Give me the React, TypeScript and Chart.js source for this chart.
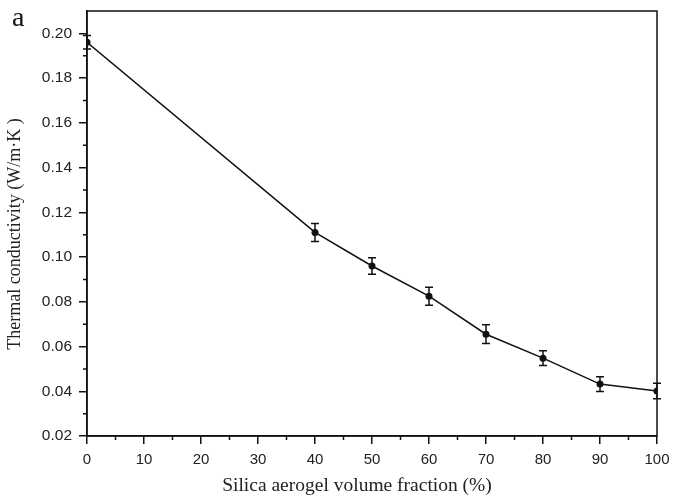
import React, { useEffect, useRef } from "react";
import { Chart, registerables } from "chart.js";

Chart.register(...registerables);

const fractions = [0, 40, 50, 60, 70, 80, 90, 100];
const conductivity = [0.196, 0.111, 0.096, 0.0825, 0.0655, 0.0548, 0.0432, 0.0401];
const errors = [0.003, 0.004, 0.0037, 0.004, 0.0042, 0.0033, 0.0033, 0.0035];
const xTicks = [0, 10, 20, 30, 40, 50, 60, 70, 80, 90, 100];
const xMinorTicks = [5, 15, 25, 35, 45, 55, 65, 75, 85, 95];
const yTicks = [0.02, 0.04, 0.06, 0.08, 0.1, 0.12, 0.14, 0.16, 0.18, 0.2];
const yMinorTicks = [0.03, 0.05, 0.07, 0.09, 0.11, 0.13, 0.15, 0.17, 0.19];
const xTitle = "Silica aerogel volume fraction (%)";
const yTitle = "Thermal conductivity (W/m·K )";
const panelLabel = "a";

const extrasPlugin = {
  id: "extras",
  afterDatasetsDraw(chart: any) {
    const ctx = chart.ctx;
    const xs = chart.scales.x;
    const ys = chart.scales.y;
    const area = chart.chartArea;
    ctx.save();
    // frame
    ctx.strokeStyle = "#111";
    ctx.lineWidth = 1.5;
    ctx.strokeRect(area.left, area.top, area.right - area.left, area.bottom - area.top);
    // minor ticks
    ctx.beginPath();
    xMinorTicks.forEach((v) => {
      const px = xs.getPixelForValue(v);
      ctx.moveTo(px, area.bottom);
      ctx.lineTo(px, area.bottom + 4);
    });
    yMinorTicks.forEach((v) => {
      const py = ys.getPixelForValue(v);
      ctx.moveTo(area.left, py);
      ctx.lineTo(area.left - 4, py);
    });
    ctx.stroke();
    // error bars
    ctx.beginPath();
    fractions.forEach((f, i) => {
      const px = xs.getPixelForValue(f);
      const top = ys.getPixelForValue(conductivity[i] + errors[i]);
      const bot = ys.getPixelForValue(conductivity[i] - errors[i]);
      ctx.moveTo(px, top);
      ctx.lineTo(px, bot);
      ctx.moveTo(px - 4, top);
      ctx.lineTo(px + 4, top);
      ctx.moveTo(px - 4, bot);
      ctx.lineTo(px + 4, bot);
    });
    ctx.stroke();
    // panel label
    ctx.fillStyle = "#111";
    ctx.font = "28px 'Liberation Serif', serif";
    ctx.textBaseline = "alphabetic";
    ctx.textAlign = "left";
    ctx.fillText(panelLabel, 12, 26);
    // axis titles
    ctx.fillStyle = "#222";
    ctx.textAlign = "center";
    ctx.textBaseline = "middle";
    ctx.font = "19.5px 'Liberation Serif', 'Times New Roman', serif";
    ctx.fillText(xTitle, 357, 486);
    ctx.save();
    ctx.translate(15, 234);
    ctx.rotate(-Math.PI / 2);
    ctx.font = "18px 'Liberation Serif', 'Times New Roman', serif";
    ctx.fillText(yTitle, 0, 0);
    ctx.restore();
    ctx.restore();
  },
};

export default function App() {
  const ref = useRef<HTMLCanvasElement>(null);
  useEffect(() => {
    document.body.style.margin = "0";
    const chart = new Chart(ref.current!, {
      type: "line",
      data: {
        datasets: [
          {
            data: fractions.map((f, i) => ({ x: f, y: conductivity[i] })),
            borderColor: "#111",
            backgroundColor: "#111",
            borderWidth: 1.5,
            pointRadius: 3.5,
            pointBackgroundColor: "#111",
            pointBorderWidth: 0,
            tension: 0,
          },
        ],
      },
      options: {
        animation: false,
        responsive: false,
        maintainAspectRatio: false,
        devicePixelRatio: 1,
        layout: { padding: { left: 0, top: 11, right: 16, bottom: 0 } },
        plugins: { legend: { display: false }, tooltip: { enabled: false } },
        scales: {
          x: {
            type: "linear",
            min: 0,
            max: 100,
            afterBuildTicks: (s: any) => {
              s.ticks = xTicks.map((v) => ({ value: v }));
            },
            afterFit: (s: any) => {
              s.height = 63;
              s.paddingLeft = 0;
              s.paddingRight = 0;
            },
            ticks: {
              color: "#222",
              font: { family: "'Liberation Sans', Arial, sans-serif", size: 15 },
              padding: 7,
              maxRotation: 0,
              callback: (v: any) => String(v),
            },
            grid: { drawOnChartArea: false, drawTicks: true, tickLength: 8, color: "#111", lineWidth: 1.5 },
            border: { display: true, color: "#111", width: 1.5 },
            title: { display: false },
          },
          y: {
            type: "linear",
            min: 0.02,
            max: 0.21,
            afterBuildTicks: (s: any) => {
              s.ticks = yTicks.map((v) => ({ value: v }));
            },
            afterFit: (s: any) => {
              s.width = 87;
              s.paddingTop = 0;
              s.paddingBottom = 0;
            },
            ticks: {
              color: "#222",
              font: { family: "'Liberation Sans', Arial, sans-serif", size: 15.5 },
              padding: 7,
              callback: (v: any) => Number(v).toFixed(2),
            },
            grid: { drawOnChartArea: false, drawTicks: true, tickLength: 8, color: "#111", lineWidth: 1.5 },
            border: { display: true, color: "#111", width: 1.5 },
            title: { display: false },
          },
        },
      },
      plugins: [extrasPlugin],
    } as any);
    return () => chart.destroy();
  }, []);
  return (
    <div style={{ width: 673, height: 499, background: "#fff" }}>
      <canvas ref={ref} width={673} height={499} style={{ display: "block" }} />
    </div>
  );
}
